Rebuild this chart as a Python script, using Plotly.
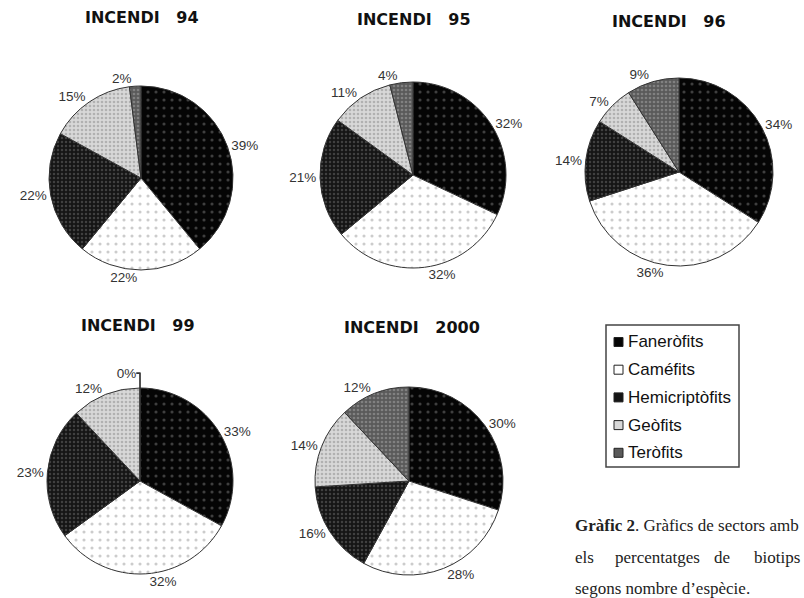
import plotly.graph_objects as go

categories = ["Faneròfits", "Caméfits", "Hemicriptòfits", "Geòfits", "Teròfits"]
titles = ["INCENDI\u00a0\u00a0\u00a094", "INCENDI\u00a0\u00a0\u00a095", "INCENDI\u00a0\u00a0\u00a096",
          "INCENDI\u00a0\u00a0\u00a099", "INCENDI\u00a0\u00a0\u00a02000"]
v94 = [39, 22, 22, 15, 2]
v95 = [32, 32, 21, 11, 4]
v96 = [34, 36, 14, 7, 9]
v99 = [33, 32, 23, 12, 0]
v2000 = [30, 28, 16, 14, 12]
series = [v94, v95, v96, v99, v2000]

W, H = 804, 598
# pie centers (px) and radius
geom = [(141, 178, 92), (413, 175, 93), (679, 172, 94), (140, 481, 93), (409, 481, 94)]
title_pos = [(142, 18), (414, 20), (669, 22), (138, 325), (412, 327)]

bg = ["#050505", "#ffffff", "#151515", "#d8d8d8", "#5a5a5a"]
fg = ["#7a7a7a", "#9a9a9a", "#6a6a6a", "#8a8a8a", "#a8a8a8"]
psize = [8, 8, 4, 4, 4]
psol = [0.12, 0.12, 0.3, 0.35, 0.35]

fig = go.Figure()
for vals, (cx, cy, r) in zip(series, geom):
    fig.add_trace(go.Pie(
        labels=categories, values=vals, sort=False, direction="clockwise", rotation=0,
        textposition="outside", texttemplate="%{value}%", textinfo="text",
        outsidetextfont=dict(family="Liberation Sans, Arial", size=13.5, color="#333333"),
        marker=dict(colors=bg, line=dict(color="#333333", width=1),
                    pattern=dict(shape=".", fgcolor=fg, bgcolor=bg, size=psize, solidity=psol,
                                 fillmode="overlay")),
        domain=dict(x=[(cx - r) / W, (cx + r) / W], y=[1 - (cy + r) / H, 1 - (cy - r) / H]),
        showlegend=False, hoverinfo="label+percent",
    ))

ann = []
for t, (x, y) in zip(titles, title_pos):
    ann.append(dict(text=t, x=x / W, y=1 - y / H, xref="paper", yref="paper", showarrow=False,
                    xanchor="center", yanchor="middle",
                    font=dict(family="DejaVu Sans", size=16, color="#111111", weight="bold")))

shapes = [dict(type="rect", xref="paper", yref="paper", x0=606 / W, x1=739 / W,
               y0=1 - 467 / H, y1=1 - 325 / H, line=dict(color="#444444", width=1.5),
               fillcolor="rgba(0,0,0,0)")]
for i, c in enumerate(categories):
    yc = 342 + i * 27.7
    shapes.append(dict(type="rect", xref="paper", yref="paper", x0=614 / W, x1=623 / W,
                       y0=1 - (yc + 4.5) / H, y1=1 - (yc - 4.5) / H,
                       line=dict(color="#222222", width=1), fillcolor=bg[i]))
    ann.append(dict(text=c, x=626 / W, y=1 - yc / H, xref="paper", yref="paper", showarrow=False,
                    xanchor="left", yanchor="middle",
                    font=dict(family="Liberation Sans, Arial", size=17, color="#111111")))

serif = dict(family="Liberation Serif, Times New Roman", size=17, color="#222222")
ann.append(dict(text="<b>Gràfic 2</b>. Gràfics de sectors amb", x=573 / W, y=1 - 525 / H,
                xref="paper", yref="paper", showarrow=False, xanchor="left", yanchor="middle", font=serif))
for word, xl, anchor in [("els", 573, "left"), ("percentatges", 613, "left"), ("de", 712, "left"),
                         ("biotips", 802, "right")]:
    ann.append(dict(text=word, x=xl / W, y=1 - 557 / H, xref="paper", yref="paper", showarrow=False,
                    xanchor=anchor, yanchor="middle", font=serif))
ann.append(dict(text="segons nombre d’espècie.", x=573 / W, y=1 - 588 / H, xref="paper", yref="paper",
                showarrow=False, xanchor="left", yanchor="middle", font=serif))

fig.update_layout(width=W, height=H, margin=dict(l=0, r=0, t=0, b=0),
                  paper_bgcolor="white", plot_bgcolor="white",
                  annotations=ann, shapes=shapes, showlegend=False)
fig.write_html("out.html")
